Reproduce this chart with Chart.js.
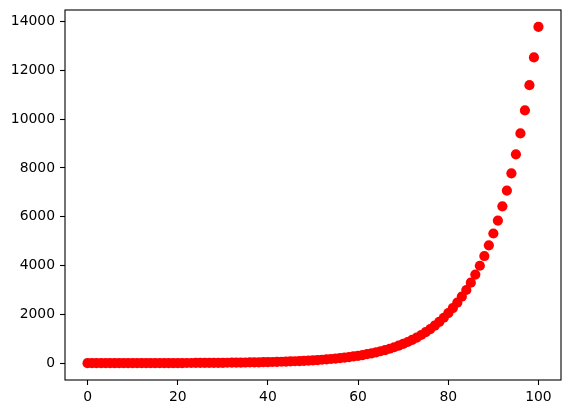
<!DOCTYPE html>
<html>
<head>
<meta charset="utf-8">
<script src="https://cdn.jsdelivr.net/npm/chart.js@4"></script>
<style>
  html, body { margin: 0; padding: 0; background: #fff; }
  canvas { display: block; }
</style>
</head>
<body>
<canvas id="chart" width="570" height="413"></canvas>
<script>
// x positions of the points
const xValues = [
  0, 1, 2, 3, 4, 5, 6, 7, 8, 9,
  10, 11, 12, 13, 14, 15, 16, 17, 18, 19,
  20, 21, 22, 23, 24, 25, 26, 27, 28, 29,
  30, 31, 32, 33, 34, 35, 36, 37, 38, 39,
  40, 41, 42, 43, 44, 45, 46, 47, 48, 49,
  50, 51, 52, 53, 54, 55, 56, 57, 58, 59,
  60, 61, 62, 63, 64, 65, 66, 67, 68, 69,
  70, 71, 72, 73, 74, 75, 76, 77, 78, 79,
  80, 81, 82, 83, 84, 85, 86, 87, 88, 89,
  90, 91, 92, 93, 94, 95, 96, 97, 98, 99,
  100
];

// y values
const yValues = [
  1, 1.1, 1.21, 1.33, 1.46, 1.61, 1.77, 1.95, 2.14, 2.36,
  2.59, 2.85, 3.14, 3.45, 3.8, 4.18, 4.59, 5.05, 5.56, 6.12,
  6.73, 7.4, 8.14, 8.95, 9.85, 10.8, 11.9, 13.1, 14.4, 15.9,
  17.4, 19.2, 21.1, 23.2, 25.5, 28.1, 30.9, 34, 37.4, 41.1,
  45.3, 49.8, 54.8, 60.2, 66.3, 72.9, 80.2, 88.2, 97, 107,
  117, 129, 142, 156, 172, 189, 208, 229, 252, 277,
  304, 335, 368, 405, 446, 490, 539, 593, 653, 718,
  790, 869, 956, 1051, 1156, 1272, 1399, 1539, 1693, 1862,
  2048, 2253, 2479, 2726, 2999, 3299, 3629, 3992, 4391, 4830,
  5313, 5844, 6429, 7072, 7779, 8557, 9412, 10354, 11389, 12528,
  13781
];

const xTicks = [0, 20, 40, 60, 80, 100];
const yTicks = [0, 2000, 4000, 6000, 8000, 10000, 12000, 14000];

const points = xValues.map((x, i) => ({ x: x, y: yValues[i] }));

// matplotlib style frame round the plot area
const framePlugin = {
  id: "frame",
  afterDatasetsDraw(chart) {
    const { ctx, chartArea } = chart;
    ctx.save();
    ctx.strokeStyle = "#000";
    ctx.lineWidth = 1.1;
    ctx.strokeRect(chartArea.left, chartArea.top,
      chartArea.right - chartArea.left, chartArea.bottom - chartArea.top);
    ctx.restore();
  },
};

const tickFont = { family: "DejaVu Sans", size: 13.9 };

new Chart(document.getElementById("chart"), {
  type: "scatter",
  data: {
    datasets: [
      {
        data: points,
        backgroundColor: "#ff0000",
        borderWidth: 0,
        pointRadius: 5.1,
        pointHoverRadius: 5.1,
      },
    ],
  },
  options: {
    responsive: false,
    animation: false,
    devicePixelRatio: 1,
    layout: { padding: { left: 0, top: 10, right: 9, bottom: 0 } },
    plugins: {
      legend: { display: false },
      tooltip: { enabled: false },
    },
    scales: {
      x: {
        type: "linear",
        min: -5,
        max: 105,
        afterBuildTicks: (scale) => {
          scale.ticks = xTicks.map((v) => ({ value: v }));
        },
        afterFit: (scale) => {
          scale.height = 33;
          scale.paddingLeft = 0;
          scale.paddingRight = 0;
        },
        grid: {
          drawOnChartArea: false,
          tickLength: 5,
          tickWidth: 1.1,
          tickColor: "#000",
        },
        border: { display: false },
        ticks: { color: "#000", font: tickFont, padding: 4, maxRotation: 0 },
      },
      y: {
        type: "linear",
        min: -688,
        max: 14470,
        afterBuildTicks: (scale) => {
          scale.ticks = yTicks.map((v) => ({ value: v }));
        },
        afterFit: (scale) => {
          scale.width = 65;
          scale.paddingTop = 0;
          scale.paddingBottom = 0;
        },
        grid: {
          drawOnChartArea: false,
          tickLength: 5,
          tickWidth: 1.1,
          tickColor: "#000",
        },
        border: { display: false },
        ticks: {
          color: "#000",
          font: tickFont,
          padding: 5,
          callback: (v) => String(v),
        },
      },
    },
  },
  plugins: [framePlugin],
});
</script>
</body>
</html>
